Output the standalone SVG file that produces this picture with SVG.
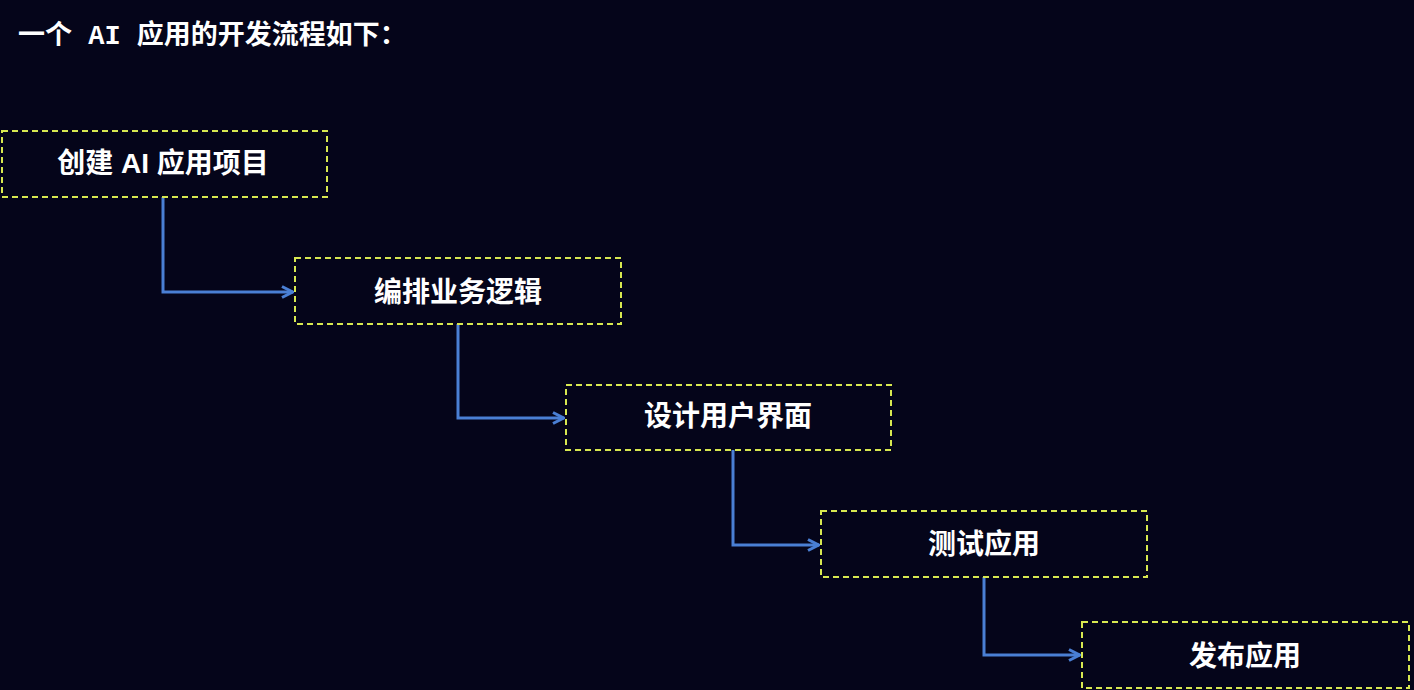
<svg xmlns="http://www.w3.org/2000/svg" width="1414" height="690" viewBox="0 0 1414 690">
<defs>
<style>
.box{fill:none;stroke:#d8e850;stroke-width:2;stroke-dasharray:6 4}
.lbl{fill:#fff;font-family:"Liberation Sans","Noto Sans CJK SC",sans-serif;font-size:28px;font-weight:bold;text-anchor:middle;dominant-baseline:central}
.con{fill:none;stroke:#4a7fd4;stroke-width:3}
</style>
<marker id="arr" viewBox="0 0 14 14" refX="13" refY="7" markerWidth="14" markerHeight="14" orient="auto" markerUnits="userSpaceOnUse">
<path d="M2 1.5 L12.5 7 L2 12.5" fill="none" stroke="#4a7fd4" stroke-width="3"/>
</marker>
</defs>
<rect width="1414" height="690" fill="#05051a"/>
<text x="18" y="44" fill="#fff" font-family="'Liberation Mono','Noto Sans CJK SC',monospace" font-size="27" font-weight="bold">一个 AI 应用的开发流程如下：</text>
<g id="connectors">
<path class="con" d="M163 197 V292 H293" marker-end="url(#arr)"/>
<path class="con" d="M458 324 V418 H564" marker-end="url(#arr)"/>
<path class="con" d="M733 450 V545 H819" marker-end="url(#arr)"/>
<path class="con" d="M984 577 V655 H1080" marker-end="url(#arr)"/>
</g>
<g id="n1"><rect class="box" x="2" y="131" width="325" height="66"/><text class="lbl" x="163" y="163">创建 AI 应用项目</text></g>
<g id="n2"><rect class="box" x="295" y="258" width="326" height="66"/><text class="lbl" x="458" y="292">编排业务逻辑</text></g>
<g id="n3"><rect class="box" x="566" y="385" width="325" height="65"/><text class="lbl" x="728" y="416">设计用户界面</text></g>
<g id="n4"><rect class="box" x="821" y="511" width="326" height="66"/><text class="lbl" x="984" y="544">测试应用</text></g>
<g id="n5"><rect class="box" x="1082" y="622" width="327" height="66"/><text class="lbl" x="1245" y="656">发布应用</text></g>
</svg>
